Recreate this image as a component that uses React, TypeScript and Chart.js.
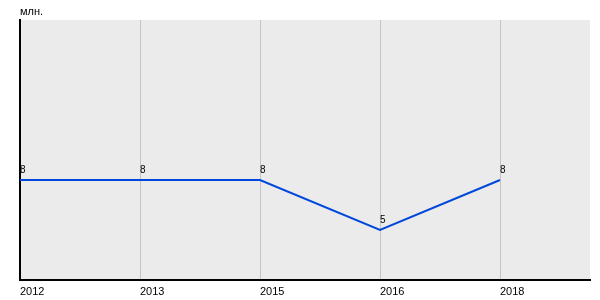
import React, { useEffect, useRef } from "react";
import { Chart, registerables } from "chart.js";

Chart.register(...registerables);

const categories = ["2012", "2013", "2015", "2016", "2018"];
const values = [8, 8, 8, 5, 8];
const unitLabel = "млн.";

export default function App() {
  const ref = useRef<HTMLCanvasElement | null>(null);
  useEffect(() => {
    if (!ref.current) return;
    const bgPlugin = {
      id: "bg",
      beforeDraw(chart: any) {
        const { ctx, chartArea } = chart;
        ctx.save();
        ctx.fillStyle = "#ebebeb";
        ctx.fillRect(chartArea.left, chartArea.top, chartArea.right - chartArea.left, chartArea.bottom - chartArea.top);
        ctx.restore();
      },
      afterDraw(chart: any) {
        const { ctx, chartArea } = chart;
        ctx.save();
        ctx.fillStyle = "#000";
        ctx.font = "11px Arial, 'Liberation Sans', sans-serif";
        ctx.textAlign = "left";
        ctx.textBaseline = "middle";
        ctx.fillText(unitLabel, chartArea.left, 12);
        const meta = chart.getDatasetMeta(0);
        ctx.font = "10px Arial, 'Liberation Sans', sans-serif";
        ctx.textBaseline = "bottom";
        meta.data.forEach((pt: any, i: number) => {
          ctx.fillText(String(values[i]), pt.x, pt.y - 5);
        });
        ctx.restore();
      },
    };
    const chart = new Chart(ref.current, {
      type: "line",
      data: {
        datasets: [
          {
            data: values.map((v, i) => ({ x: i, y: v })),
            borderColor: "#0047dc",
            borderWidth: 2,
            pointRadius: 0,
            tension: 0,
            fill: false,
          },
        ],
      },
      options: {
        animation: false,
        responsive: false,
        layout: { padding: { left: 20, top: 20, right: 10, bottom: 0 } },
        plugins: { legend: { display: false }, tooltip: { enabled: false } },
        scales: {
          x: {
            type: "linear",
            min: 0,
            max: 4.75,
            afterBuildTicks(scale: any) {
              scale.ticks = categories.map((_, i) => ({ value: i }));
            },
            afterFit(scale: any) {
              scale.height = 20;
            },
            ticks: {
              align: "start",
              padding: 5,
              maxRotation: 0,
              autoSkip: false,
              color: "#000",
              font: { size: 11, family: "Arial, 'Liberation Sans', sans-serif" },
              callback: (v: any) => categories[v] ?? "",
            },
            grid: { color: "#c4c4c4", drawTicks: false, lineWidth: 1 },
            border: { display: true, color: "#000", width: 2 },
          },
          y: {
            min: 2,
            max: 17.6,
            afterFit(scale: any) {
              scale.width = 0;
            },
            ticks: { display: false },
            grid: { display: false, drawTicks: false },
            border: { display: true, color: "#000", width: 2 },
          },
        },
      },
      plugins: [bgPlugin],
    });
    return () => chart.destroy();
  }, []);
  return (
    <div style={{ position: "fixed", left: 0, top: 0, width: 600, height: 300, background: "#fff" }}>
      <canvas ref={ref} width={600} height={300} />
    </div>
  );
}
